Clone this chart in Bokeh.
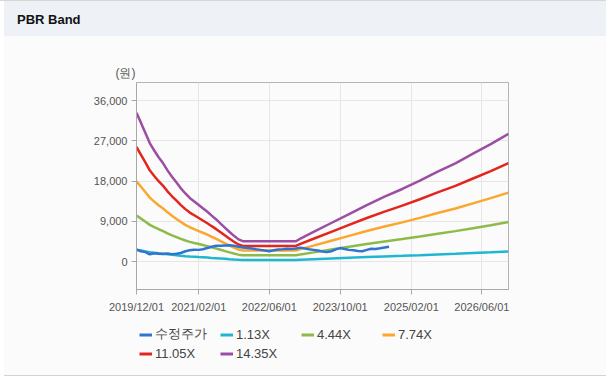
import pandas as pd
from bokeh.plotting import figure
from bokeh.models import (Range1d, FixedTicker, DatetimeTickFormatter, NumeralTickFormatter,
                          Legend, LegendItem, Title, ColumnDataSource, Div)
from bokeh.layouts import column
from bokeh.embed import file_html
from bokeh.resources import INLINE

# ---------------- data ----------------
band_dates = ["2019-12-01", "2020-01-01", "2020-02-01", "2020-03-01", "2020-04-01", "2020-05-01",
              "2020-06-01", "2020-07-01", "2020-08-01", "2020-09-01", "2020-10-01", "2020-11-01",
              "2020-12-01", "2021-01-01", "2021-02-01", "2021-03-01", "2021-04-01", "2021-05-01",
              "2021-06-01", "2021-07-01", "2021-08-01", "2021-09-01", "2021-10-01", "2021-11-01",
              "2021-12-01", "2022-12-01", "2023-01-01", "2023-04-01", "2023-08-01", "2023-12-01",
              "2024-04-01", "2024-08-01", "2024-12-01", "2025-04-01", "2025-08-01", "2025-12-01",
              "2026-04-01", "2026-08-01", "2026-12-01"]

band_113 = [2618, 2441, 2260, 2085, 1955, 1836, 1729, 1605, 1492, 1390, 1288, 1198, 1119, 1057,
            994, 938, 876, 808, 740, 667, 593, 520, 452, 390, 357, 357, 405, 520, 678, 836, 994,
            1141, 1277, 1424, 1582, 1729, 1898, 2068, 2249]
band_444 = [10287, 9590, 8880, 8192, 7681, 7215, 6793, 6305, 5861, 5461, 5062, 4706, 4396, 4151,
            3907, 3685, 3441, 3175, 2908, 2620, 2331, 2042, 1776, 1532, 1403, 1403, 1590, 2042,
            2664, 3286, 3907, 4484, 5017, 5594, 6216, 6793, 7459, 8125, 8836]
band_774 = [17934, 16718, 15480, 14280, 13390, 12578, 11842, 10991, 10217, 9520, 8824, 8204, 7663,
            7237, 6811, 6424, 5999, 5534, 5070, 4567, 4064, 3560, 3096, 2670, 2446, 2446, 2771,
            3560, 4644, 5728, 6811, 7817, 8746, 9752, 10836, 11842, 13003, 14164, 15403]
band_1105 = [25603, 23868, 22100, 20387, 19117, 17956, 16907, 15691, 14586, 13592, 12597, 11713,
             10940, 10332, 9724, 9172, 8564, 7901, 7238, 6520, 5801, 5083, 4420, 3812, 3492, 3492,
             3956, 5083, 6630, 8177, 9724, 11161, 12487, 13923, 15470, 16907, 18564, 20222, 21990]
band_1435 = [33249, 30996, 28700, 26476, 24826, 23319, 21956, 20377, 18942, 17651, 16359, 15211,
             14207, 13417, 12628, 11911, 11121, 10260, 9399, 8467, 7534, 6601, 5740, 4951, 4535,
             4535, 5137, 6601, 8610, 10619, 12628, 14494, 16216, 18081, 20090, 21956, 24108, 26261,
             28557]

price_start = "2019-12-01"  # monthly values from this month
price = [2650, 2300, 2100, 1600, 1850, 1750, 1700, 1800, 1650, 1750,
         1900, 2300, 2500, 2650, 2600, 2750, 3000, 3300, 3500, 3550,
         3600, 3650, 3500, 3300, 3150, 3000, 2900, 2750, 2600, 2450,
         2300, 2500, 2700, 2750, 2850, 2800, 2900, 3100, 2900, 2750,
         2600, 2450, 2250, 2100, 2300, 2700, 3000, 2800, 2600, 2500,
         2350, 2300, 2600, 2850, 2800, 2950, 3150, 3300]

series_names = ["수정주가", "1.13X", "4.44X", "7.74X", "11.05X", "14.35X"]
series_colors = ["#2f74d0", "#1fb7cf", "#8dbb4a", "#fba72e", "#e2261d", "#9b4ea3"]

x_tick_labels = ["2019-12-01", "2021-02-01", "2022-06-01", "2023-10-01", "2025-02-01", "2026-06-01"]
y_ticks = [0, 9000, 18000, 27000, 36000]

# ---------------- layout ----------------
FONT = "Liberation Sans"
BG = "#fbfbfb"
W = 606

header = Div(text="PBR Band", width=W, height=36, margin=0,
             styles={"background": "linear-gradient(to right, #ffffff 0px, #ffffff 4px, #eef2f7 4px)",
                     "border-top": "1px solid #d6d6d6", "box-sizing": "border-box",
                     "padding-left": "17px", "line-height": "38px", "overflow": "hidden",
                     "font-family": "'Liberation Sans', sans-serif", "font-size": "13px",
                     "font-weight": "bold", "color": "#111111"})

band_x = pd.to_datetime(band_dates)
price_x = pd.date_range(start=price_start, periods=len(price), freq="MS")

p = figure(width=W, height=284, x_axis_type="datetime", title=None,
           x_range=Range1d(pd.Timestamp("2019-12-01"), pd.Timestamp("2026-12-01")),
           y_range=Range1d(-6260, 40025),
           min_border_left=136, min_border_right=98, min_border_top=46, min_border_bottom=31,
           output_backend="svg", toolbar_location=None,
           background_fill_color=BG, border_fill_alpha=0, outline_line_color="#b4b4b4")
p.styles = {"background": "linear-gradient(to right, #ffffff 0px, #ffffff 4px, #fbfbfb 4px)"}

bands = [band_113, band_444, band_774, band_1105, band_1435]
for vals, col in zip(bands, series_colors[1:]):
    src = ColumnDataSource(dict(x=band_x, y=vals))
    p.line("x", "y", source=src, line_color=col, line_width=2.5)
psrc = ColumnDataSource(dict(x=price_x, y=price))
p.line("x", "y", source=psrc, line_color=series_colors[0], line_width=2.5)

# axes
tick_ms = [pd.Timestamp(d).timestamp() * 1000 for d in x_tick_labels]
p.xaxis.ticker = FixedTicker(ticks=tick_ms)
fmt = "%Y/%m/%d"
p.xaxis.formatter = DatetimeTickFormatter(milliseconds=fmt, seconds=fmt, minsec=fmt, minutes=fmt,
                                          hourmin=fmt, hours=fmt, days=fmt, months=fmt, years=fmt)
p.yaxis.ticker = FixedTicker(ticks=y_ticks)
p.yaxis.formatter = NumeralTickFormatter(format="0,0")
for ax in (p.xaxis, p.yaxis):
    ax.axis_line_color = "#a8a8a8"
    ax.major_tick_line_color = "#a8a8a8"
    ax.major_tick_out = 5
    ax.major_tick_in = 0
    ax.minor_tick_line_color = None
    ax.major_label_text_font = FONT
    ax.major_label_text_font_size = "11px"
    ax.major_label_text_color = "#555555"
p.xaxis.major_label_standoff = 6
p.yaxis.major_label_standoff = 4
p.grid.grid_line_color = "#e6e6e6"

# unit label just above the frame
p.add_layout(Title(text="(원)", align="left", offset=-21, standoff=6, text_font=FONT,
                   text_font_size="12px", text_font_style="normal", text_color="#555555"), "above")

# legend strip below the chart (same left/right borders as the chart)
lg = figure(width=W, height=60, x_range=Range1d(0, 1), y_range=Range1d(0, 1),
            x_axis_location=None, y_axis_location=None, title=None,
            min_border_left=136, min_border_right=98, min_border_top=0, min_border_bottom=0,
            output_backend="svg", toolbar_location=None,
            background_fill_alpha=0, border_fill_alpha=0, outline_line_color=None)
lg.grid.visible = False
lg.styles = {"background": "linear-gradient(to right, #ffffff 0px, #ffffff 4px, transparent 4px), "
                           "linear-gradient(to bottom, #fbfbfb 0px, #fbfbfb 55px, #d4d4d4 55px, "
                           "#d4d4d4 56px, #ffffff 56px)"}
# legend keys: renderers holding no visible data, used only for the key swatches
nan = float("nan")
key_lines = [lg.line(x=[nan], y=[nan], line_color=c, line_width=3) for c in series_colors]
items = [LegendItem(label=n, renderers=[r]) for n, r in zip(series_names, key_lines)]
for row_items, yloc in ((items[:4], 37), (items[4:], 19)):
    leg = Legend(items=row_items, location=(3, yloc), orientation="horizontal",
                 margin=0, padding=0, spacing=3,
                 glyph_width=13, glyph_height=15, label_height=15, label_width=62, label_standoff=3,
                 label_text_font=FONT, label_text_font_size="13px", label_text_color="#444444",
                 border_line_color=None, background_fill_alpha=0)
    lg.add_layout(leg, "center")

layout = column(header, p, lg, spacing=0)
open("out.html", "w").write(file_html(layout, INLINE))
